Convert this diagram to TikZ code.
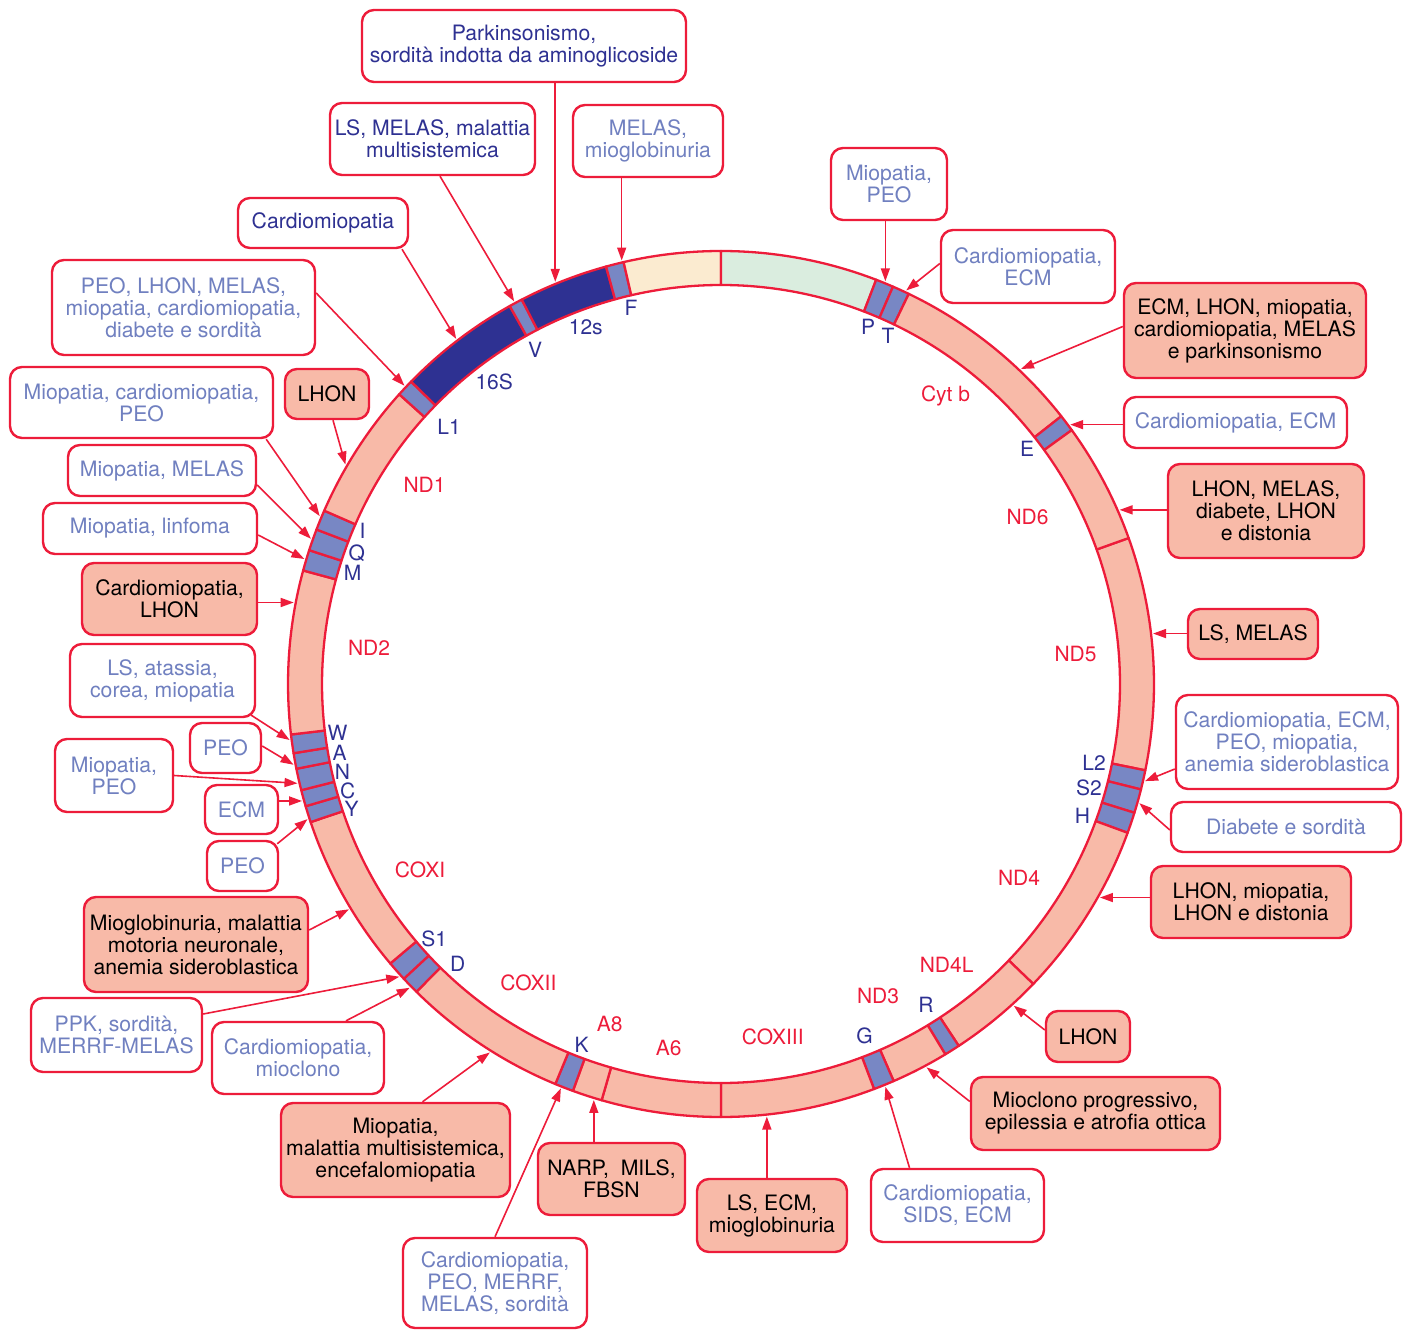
\documentclass[tikz,border=0pt]{standalone}
\usepackage{fontspec}
\setmainfont{TeX Gyre Heros}
\usetikzlibrary{arrows.meta,calc}
\definecolor{ringred}{RGB}{237,28,58}
\definecolor{salmon}{RGB}{248,186,168}
\definecolor{navy}{RGB}{46,49,146}
\definecolor{lav}{RGB}{120,135,196}
\definecolor{lavtext}{RGB}{112,128,192}
\definecolor{cream}{RGB}{251,235,208}
\definecolor{mint}{RGB}{218,237,223}
\newcommand\ringseg[3]{\filldraw[fill=#3,draw=ringred,line width=1.15pt,line join=round] (#1:433) arc[start angle=#1,end angle=#2,radius=433] -- (#2:399) arc[start angle=#2,end angle=#1,radius=399] -- cycle;}
\begin{document}
\begin{tikzpicture}[x=0.5pt,y=-0.5pt,
  box/.style={draw=ringred,line width=1.2pt,rounded corners=6pt,align=center,inner sep=0pt,font=\fontsize{10.6}{11}\selectfont},
  wbox/.style={box,fill=white,text=lavtext},
  nbox/.style={box,fill=white,text=navy},
  sbox/.style={box,fill=salmon,text=black},
  sz/.style 2 args={minimum width=#1pt,minimum height=#2pt},
  arr/.style={draw=ringred,line width=0.8pt,-{Triangle[length=6.5pt,width=4.5pt]}},
  glab/.style={text=ringred,font=\fontsize{10.5}{11}\selectfont,inner sep=0pt},
  tlab/.style={text=navy,font=\fontsize{10.5}{11}\selectfont,inner sep=0pt},
]
\useasboundingbox (0,0) rectangle (1408,1331);

\begin{scope}[shift={(721,684)}]
\ringseg{-19.7}{11.5}{salmon}
\ringseg{11.5}{14.1}{lav}
\ringseg{14.1}{17.3}{lav}
\ringseg{17.3}{20.1}{lav}
\ringseg{20.1}{43.85}{salmon}
\ringseg{43.85}{56.7}{salmon}
\ringseg{56.7}{58.8}{lav}
\ringseg{58.8}{66.5}{salmon}
\ringseg{66.5}{69.3}{lav}
\ringseg{69.3}{90}{salmon}
\ringseg{90}{106}{salmon}
\ringseg{106}{110}{salmon}
\ringseg{110}{112.5}{lav}
\ringseg{112.5}{134.7}{salmon}
\ringseg{134.7}{137.1}{lav}
\ringseg{137.1}{139.8}{lav}
\ringseg{139.8}{161.4}{salmon}
\ringseg{161.4}{163.6}{lav}
\ringseg{163.6}{165.8}{lav}
\ringseg{165.8}{168.7}{lav}
\ringseg{168.7}{170.8}{lav}
\ringseg{170.8}{173.3}{lav}
\ringseg{173.3}{195.2}{salmon}
\ringseg{195.2}{198.0}{lav}
\ringseg{198.0}{200.9}{lav}
\ringseg{200.9}{203.6}{lav}
\ringseg{203.6}{222.0}{salmon}
\ringseg{222.0}{224.3}{lav}
\ringseg{224.3}{240.8}{navy}
\ringseg{240.8}{242.6}{lav}
\ringseg{242.6}{254.6}{navy}
\ringseg{254.6}{257.0}{lav}
\ringseg{257.0}{270}{cream}
\ringseg{270}{291.0}{mint}
\ringseg{291.0}{293.4}{lav}
\ringseg{293.4}{295.7}{lav}
\ringseg{295.7}{321.8}{salmon}
\ringseg{321.8}{324.1}{lav}
\ringseg{324.1}{340.3}{salmon}
% arrow tips
\coordinate (t1) at (247.6:435);
\coordinate (t2) at (241.6:435);
\coordinate (t3) at (256.8:435);
\coordinate (t4) at (232.5:435);
\coordinate (t5) at (223.3:435);
\coordinate (t6) at (202.7:435);
\coordinate (t7) at (210.3:435);
\coordinate (t8) at (199.5:435);
\coordinate (t9) at (196.7:435);
\coordinate (t10) at (190.8:435);
\coordinate (t11) at (172.6:435);
\coordinate (t12) at (169.3:435);
\coordinate (t13) at (166.8:435);
\coordinate (t14) at (164.4:435);
\coordinate (t15) at (161.9:435);
\coordinate (t16) at (148.8:435);
\coordinate (t17) at (137.7:435);
\coordinate (t18) at (135.7:435);
\coordinate (t19) at (122.1:435);
\coordinate (t20) at (111.6:435);
\coordinate (t21) at (107.0:435);
\coordinate (t22) at (83.95:435);
\coordinate (t23) at (67.8:435);
\coordinate (t24) at (61.8:435);
\coordinate (t25) at (47.7:435);
\coordinate (t26) at (29.4:435);
\coordinate (t27) at (15.9:435);
\coordinate (t28) at (12.9:435);
\coordinate (t29) at (-6.66:435);
\coordinate (t30) at (-23.6:435);
\coordinate (t31) at (-36.6:435);
\coordinate (t32) at (-46.4:435);
\coordinate (t33) at (-64.8:435);
\coordinate (t34) at (-67.8:435);
\end{scope}

% gene labels
\node[glab] (lcytb) at (945.5,395.8) {Cyt b};
\node[glab] (lnd6) at (1027.5,517.5) {ND6};
\node[glab] (lnd5) at (1075.5,654) {ND5};
\node[glab] (lnd4) at (1019,878.3) {ND4};
\node[glab] (lnd4l) at (946.6,964.7) {ND4L};
\node[glab] (lnd3) at (878,996) {ND3};
\node[glab] (lcox3) at (772.7,1036.7) {COXIII};
\node[glab] (la6) at (668.6,1047.5) {A6};
\node[glab] (la8) at (609.8,1023.8) {A8};
\node[glab] (lcox2) at (528.3,983.3) {COXII};
\node[glab] (lcox1) at (420,869.5) {COXI};
\node[glab] (lnd2) at (369,647.5) {ND2};
\node[glab] (lnd1) at (424.5,485) {ND1};
% tRNA / rRNA labels
\node[tlab] (l12s) at (585.8,327.5) {12s};
\node[tlab] (l16s) at (494.2,381.7) {16S};
\node[tlab] (lV) at (535,350) {V};
\node[tlab] (lF) at (631,308.3) {F};
\node[tlab] (lL1) at (449,426.7) {L1};
\node[tlab] (lP) at (868,326.7) {P};
\node[tlab] (lT) at (888,336) {T};
\node[tlab] (lE) at (1027,448.5) {E};
\node[tlab] (lL2) at (1094,763) {L2};
\node[tlab] (lS2) at (1089,788) {S2};
\node[tlab] (lH) at (1082.5,815.5) {H};
\node[tlab] (lR) at (926,1005) {R};
\node[tlab] (lG) at (864.6,1036) {G};
\node[tlab] (lK) at (581.5,1044.5) {K};
\node[tlab] (lS1) at (434.1,938.7) {S1};
\node[tlab] (lD) at (457.7,963.8) {D};
\node[tlab] (lW) at (337.5,732.5) {W};
\node[tlab] (lA) at (339.7,752.5) {A};
\node[tlab] (lN) at (342.5,771.5) {N};
\node[tlab] (lC) at (347.8,790.5) {C};
\node[tlab] (lY) at (351.7,809) {Y};
\node[tlab] (lI) at (362.5,530.8) {I};
\node[tlab] (lQ) at (356.7,553.3) {Q};
\node[tlab] (lM) at (352.5,573.3) {M};

% boxes
\node[nbox,sz={162}{36}] (park) at (524,46) {Parkinsonismo,\\sordità indotta da aminoglicoside};
\node[nbox,sz={102.5}{36}] (lsmelas) at (432.5,139) {LS, MELAS, malattia\\multisistemica};
\node[wbox,sz={75}{36}] (melasmio) at (648,141) {MELAS,\\mioglobinuria};
\node[nbox,sz={85}{25}] (cardio) at (323,223) {Cardiomiopatia};
\node[wbox,sz={131.5}{47.5}] (peolhon) at (183.5,307.5) {PEO, LHON, MELAS,\\miopatia, cardiomiopatia,\\diabete e sordità};
\node[wbox,sz={131.5}{35.5}] (miocardpeo) at (141.5,402.5) {Miopatia, cardiomiopatia,\\PEO};
\node[sbox,sz={42}{25}] (lhon1) at (327,394) {LHON};
\node[wbox,sz={94}{25.5}] (miomelas) at (162,470.5) {Miopatia, MELAS};
\node[wbox,sz={107}{25.5}] (miolinf) at (150,528.5) {Miopatia, linfoma};
\node[sbox,sz={87.5}{36}] (cardlhon) at (169.5,599) {Cardiomiopatia,\\LHON};
\node[wbox,sz={92.5}{36.5}] (lsatassia) at (162.5,680.5) {LS, atassia,\\corea, miopatia};
\node[wbox,sz={35.5}{25}] (peo1) at (225.5,748) {PEO};
\node[wbox,sz={59}{36.5}] (miopeo) at (114,775.5) {Miopatia,\\PEO};
\node[wbox,sz={36.5}{24.5}] (ecm) at (241.5,809.5) {ECM};
\node[wbox,sz={35.5}{25}] (peo2) at (242.5,866) {PEO};
\node[sbox,sz={112}{47.5}] (miogl) at (196,944.5) {Mioglobinuria, malattia\\motoria neuronale,\\anemia sideroblastica};
\node[wbox,sz={85.5}{37}] (ppk) at (116.5,1035) {PPK, sordità,\\MERRF-MELAS};
\node[wbox,sz={86}{36}] (cardmiocl) at (298,1058) {Cardiomiopatia,\\mioclono};
\node[sbox,sz={114.5}{47}] (miomal) at (395.5,1150) {Miopatia,\\malattia multisistemica,\\encefalomiopatia};
\node[wbox,sz={92}{45}] (cardpeomerrf) at (495,1283) {Cardiomiopatia,\\PEO, MERRF,\\MELAS, sordità};
\node[sbox,sz={73.5}{36}] (narp) at (611.5,1179) {NARP,\ \ MILS,\\FBSN};
\node[sbox,sz={75}{36.5}] (lsecm) at (772,1215.5) {LS, ECM,\\mioglobinuria};
\node[wbox,sz={86.5}{36.5}] (cardsids) at (957.5,1205.5) {Cardiomiopatia,\\SIDS, ECM};
\node[sbox,sz={124.5}{36.5}] (mioclprog) at (1095.5,1113.5) {Mioclono progressivo,\\epilessia e atrofia ottica};
\node[sbox,sz={42}{25.5}] (lhon2) at (1088,1036.5) {LHON};
\node[sbox,sz={100}{36}] (lhonmio) at (1251,902) {LHON, miopatia,\\LHON e distonia};
\node[wbox,sz={115}{25}] (diabete) at (1286,827) {Diabete e sordità};
\node[wbox,sz={111}{47}] (cardecmpeo) at (1287,742) {Cardiomiopatia, ECM,\\PEO, miopatia,\\anemia sideroblastica};
\node[sbox,sz={65}{25}] (lsmelas2) at (1253,634) {LS, MELAS};
\node[sbox,sz={98}{47}] (lhonmelas) at (1266,511) {LHON, MELAS,\\diabete, LHON\\e distonia};
\node[wbox,sz={111.5}{25.5}] (cardecm) at (1235.5,422.5) {Cardiomiopatia, ECM};
\node[sbox,sz={121}{47.5}] (ecmlhon) at (1245,330.5) {ECM, LHON, miopatia,\\cardiomiopatia, MELAS\\e parkinsonismo};
\node[wbox,sz={87}{36.5}] (cardecm2) at (1028,266.5) {Cardiomiopatia,\\ECM};
\node[wbox,sz={58}{36}] (miopeo2) at (889,184) {Miopatia,\\PEO};

% connectors
\draw[arr] (t1 |- park.south) -- (t1);
\draw[arr] (lsmelas.south) ++(7.5,0) -- (t2);
\draw[arr] (t3 |- melasmio.south) -- (t3);
\draw[arr] (cardio.south) ++(79,0) -- (t4);
\draw[arr] (peolhon.east) ++(0,-14.5) -- (t5);
\draw[arr] (miocardpeo.south east) ++(-8,0) -- (t6);
\draw[arr] (lhon1.south) ++(6,0) -- (t7);
\draw[arr] (miomelas.east) ++(0,14.5) -- (t8);
\draw[arr] (miolinf.east) ++(0,6.5) -- (t9);
\draw[arr] (cardlhon.east |- t10) -- (t10);
\draw[arr] (lsatassia.south east) ++(-5,-3) -- (t11);
\draw[arr] (peo1.east) ++(0,-2) -- (t12);
\draw[arr] (miopeo.east) -- (t13);
\draw[arr] (ecm.east |- t14) -- (t14);
\draw[arr] (peo2.north east) ++(-2,4) -- (t15);
\draw[arr] (miogl.east) ++(0,-14.5) -- (t16);
\draw[arr] (ppk.east) ++(0,-21) -- (t17);
\draw[arr] (cardmiocl.north) ++(48,0) -- (t18);
\draw[arr] (miomal.north) ++(27,0) -- (t19);
\draw[arr] (cardpeomerrf.north) -- (t20);
\draw[arr] (t21 |- narp.north) -- (t21);
\draw[arr] (t22 |- lsecm.north) -- (t22);
\draw[arr] (cardsids.north) ++(-48,0) -- (t23);
\draw[arr] (mioclprog.west) ++(0,-12) -- (t24);
\draw[arr] (lhon2.west) ++(0,-6.5) -- (t25);
\draw[arr] (lhonmio.west |- t26) -- (t26);
\draw[arr] (diabete.west) ++(0,3) -- (t27);
\draw[arr] (cardecmpeo.west) ++(0,27) -- (t28);
\draw[arr] (lsmelas2.west |- t29) -- (t29);
\draw[arr] (lhonmelas.west |- t30) -- (t30);
\draw[arr] (cardecm.west |- t31) -- (t31);
\draw[arr] (ecmlhon.west) ++(0,-4) -- (t32);
\draw[arr] (cardecm2.west) ++(0,-3) -- (t33);
\draw[arr] (t34 |- miopeo2.south) -- (t34);
\end{tikzpicture}
\end{document}
